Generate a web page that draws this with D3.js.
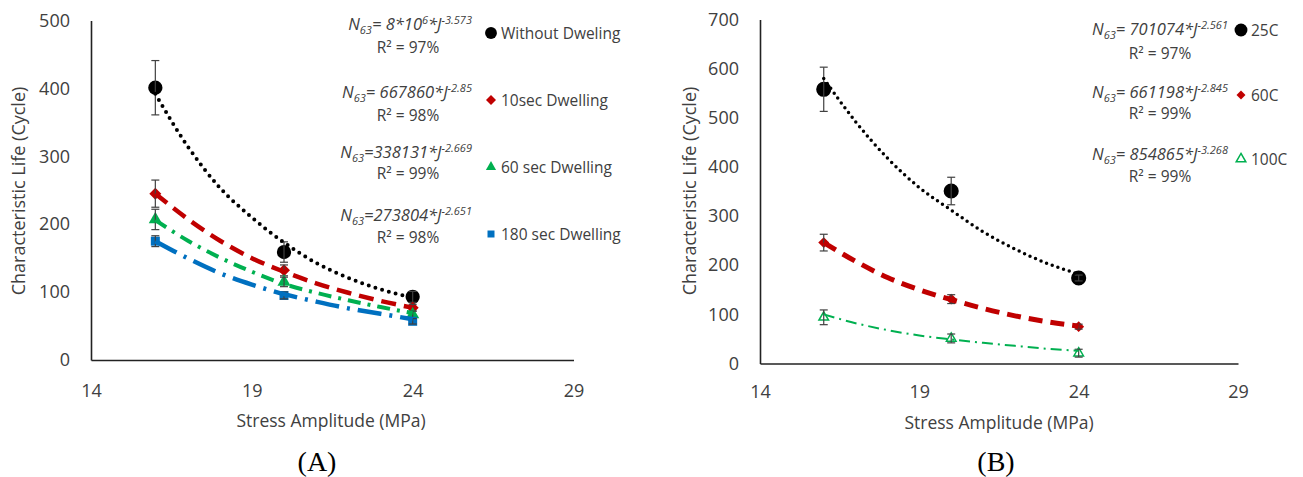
<!DOCTYPE html>
<html>
<head>
<meta charset="utf-8">
<script src="https://cdn.jsdelivr.net/npm/d3@7"></script>
<style>
  body { margin: 0; background: #fff; }
  svg { display: block; font-family: "Open Sans", "Noto Sans", sans-serif; }
</style>
</head>
<body>
<svg id="chart"></svg>
<script>
// ---- data ----
const stressLevels = [16, 20, 24];
const trendStress = [16, 17, 18, 19, 20, 21, 22, 23, 24];
const xTicks = [14, 19, 24, 29];
const yTicksA = [0, 100, 200, 300, 400, 500];
const yTicksB = [0, 100, 200, 300, 400, 500, 600, 700];

// (A) dwelling time
const lifeNoDwell = [401, 159, 93];
const errNoDwell = [40, 15, 8];
const trendNoDwell = [392, 315, 254, 210, 173, 143, 121, 104, 92];
const life10s = [245, 132, 77];
const err10s = [20, 8, 5];
const trend10s = [245, 208, 176, 150, 130, 113, 99, 87, 77];
const life60s = [207, 115, 67];
const err60s = [15, 7, 5];
const trend60s = [206, 176, 151, 130, 112, 99, 88, 78, 69];
const life180s = [175, 95, 57];
const err180s = [8, 5, 4];
const trend180s = [175, 150, 128, 111, 97, 86, 76, 68, 60];

// (B) temperature
const life25C = [558, 351, 174];
const err25C = [45, 28, 6];
const trend25C = [580, 492, 418, 358, 312, 268, 233, 204, 182];
const life60C = [246, 131, 75];
const err60C = [17, 9, 5];
const trend60C = [246, 208, 175, 150, 130, 112, 97, 85, 76];
const life100C = [94, 51, 21];
const err100C = [15, 9, 8];
const trend100C = [100, 82, 68, 57, 49, 42, 36, 30, 26];

const labelsA = ['Without Dweling', '10sec Dwelling', '60 sec Dwelling', '180 sec Dwelling'];
const equationsA = [
  ['= 8*10', '6', '*J', '-3.573'],
  ['= 667860*J', '-2.85'],
  ['=338131*J', '-2.669'],
  ['=273804*J', '-2.651']
];
const r2A = ['97%', '98%', '99%', '98%'];

const labelsB = ['25C', '60C', '100C'];
const equationsB = [
  ['= 701074*J', '-2.561'],
  ['= 661198*J', '-2.845'],
  ['= 854865*J', '-3.268']
];
const r2B = ['97%', '99%', '99%'];

const RED = '#c00000', GREEN = '#00b050', BLUE = '#0070c0', TEXT = '#404040';

const svg = d3.select('#chart').attr('width', 1303).attr('height', 477);
svg.append('rect').attr('width', 1303).attr('height', 477).attr('fill', '#fff');

function markerPath(kind, size) {
  const t = { circle: d3.symbolCircle, diamond: d3.symbolSquare, triangle: d3.symbolTriangle, square: d3.symbolSquare }[kind];
  return d3.symbol().type(t).size(size)();
}

function drawMarker(g, kind, size, color, hollow, x, y) {
  g.append('path')
    .attr('d', markerPath(kind, size))
    .attr('transform', `translate(${x},${y})` + (kind === 'diamond' ? ' rotate(45)' : ''))
    .attr('fill', hollow ? '#fff' : color)
    .attr('stroke', hollow ? color : 'none')
    .attr('stroke-width', hollow ? 1.5 : 0);
}

function drawPanel(p) {
  const g = svg.append('g');
  const x = d3.scaleLinear().domain([14, 29]).range(p.xRange);
  const y = d3.scaleLinear().domain([0, p.yMax]).range(p.yRange);

  // axes
  const ax = g.append('g')
    .attr('transform', `translate(0,${p.yRange[0]})`)
    .call(d3.axisBottom(x).tickValues(xTicks).tickSize(0).tickPadding(p.xPad));
  const ay = g.append('g')
    .attr('transform', `translate(${p.xRange[0]},0)`)
    .call(d3.axisLeft(y).tickValues(p.yTicks).tickSize(0).tickPadding(21));
  [ax, ay].forEach(a => {
    a.select('.domain').attr('stroke', '#222').attr('stroke-width', 1.6);
    a.selectAll('text').attr('font-family', '"Open Sans", sans-serif').attr('font-size', 18).attr('fill', TEXT);
  });

  g.append('text')
    .attr('x', p.xTitleX)
    .attr('y', p.xTitleY)
    .attr('text-anchor', 'middle').attr('font-size', 17.5).attr('fill', TEXT)
    .text('Stress Amplitude (MPa)');
  g.append('text')
    .attr('transform', `translate(${p.yTitleX},${p.yTitleY}) rotate(-90)`)
    .attr('text-anchor', 'middle').attr('font-size', 18).attr('fill', TEXT)
    .text('Characteristic Life (Cycle)');
  g.append('text')
    .attr('x', p.captionX).attr('y', 471)
    .attr('text-anchor', 'middle')
    .attr('font-family', '"Liberation Serif", "DejaVu Serif", serif')
    .attr('font-size', 28).attr('fill', '#000')
    .text(p.caption);

  const line = d3.line()
    .x((d, i) => x(trendStress[i]))
    .y(d => y(d))
    .curve(d3.curveMonotoneX);

  p.series.forEach(s => {
    // markers
    s.life.forEach((v, i) => drawMarker(g, s.marker, s.size, s.color, s.hollow, x(stressLevels[i]), y(v)));
    // error bars
    s.life.forEach((v, i) => {
      const cx = x(stressLevels[i]);
      const top = y(v + s.err[i]), bot = y(v - s.err[i]);
      g.append('line').attr('x1', cx).attr('x2', cx).attr('y1', top).attr('y2', bot)
        .attr('stroke', '#404040').attr('stroke-width', 1.2);
      [top, bot].forEach(yy => g.append('line')
        .attr('x1', cx - 4).attr('x2', cx + 4).attr('y1', yy).attr('y2', yy)
        .attr('stroke', '#404040').attr('stroke-width', 1.2));
    });
    // power trendline
    g.append('path')
      .datum(s.trend)
      .attr('d', line)
      .attr('fill', 'none')
      .attr('stroke', s.color)
      .attr('stroke-width', s.width)
      .attr('stroke-linecap', s.cap)
      .attr('stroke-dasharray', s.dash);
  });

  // legend with equations
  p.series.forEach((s, i) => {
    const L = p.legend[i];
    const eq = g.append('text')
      .attr('x', p.eqEnd).attr('y', L.eqY)
      .attr('text-anchor', 'end').attr('font-style', 'italic')
      .attr('font-size', 16.5).attr('fill', TEXT);
    eq.append('tspan').text('N');
    eq.append('tspan').attr('font-size', 11).attr('dy', 3.5).text('63');
    const parts = s.equation;
    eq.append('tspan').attr('dy', -3.5).text(parts[0]);
    eq.append('tspan').attr('font-size', 11).attr('dy', -6.5).text(parts[1]);
    if (parts.length > 2) {
      eq.append('tspan').attr('font-size', 16.5).attr('dy', 6.5).text(parts[2]);
      eq.append('tspan').attr('font-size', 11).attr('dy', -6.5).text(parts[3]);
    }
    g.append('text')
      .attr('x', p.r2X).attr('y', L.r2Y)
      .attr('text-anchor', 'middle').attr('font-size', 15.5).attr('fill', TEXT)
      .text('R² = ' + s.r2);
    drawMarker(g, s.marker, s.legendSize, s.color, s.hollow, p.markX, L.markY);
    g.append('text')
      .attr('x', p.markX + 10).attr('y', L.markY + 6)
      .attr('font-size', 15.5).attr('fill', TEXT)
      .text(s.label);
  });
}

drawPanel({
  xRange: [91, 573.5], yRange: [360, 20.5], yMax: 500, yTicks: yTicksA, xPad: 24,
  xTitleX: 331, xTitleY: 427, yTitleX: 25, yTitleY: 191, caption: '(A)', captionX: 317,
  eqEnd: 472, r2X: 408, markX: 491,
  legend: [
    { eqY: 30, r2Y: 53, markY: 33 },
    { eqY: 98, r2Y: 121, markY: 100 },
    { eqY: 158, r2Y: 179, markY: 167 },
    { eqY: 221, r2Y: 243, markY: 234 }
  ],
  series: [
    { life: lifeNoDwell, err: errNoDwell, trend: trendNoDwell, color: '#000', marker: 'circle', size: 160, legendSize: 110,
      width: 4, cap: 'round', dash: '0 7', label: labelsA[0], equation: equationsA[0], r2: r2A[0] },
    { life: life10s, err: err10s, trend: trend10s, color: RED, marker: 'diamond', size: 72, legendSize: 50,
      width: 4.5, cap: 'butt', dash: '15 8', label: labelsA[1], equation: equationsA[1], r2: r2A[1] },
    { life: life60s, err: err60s, trend: trend60s, color: GREEN, marker: 'triangle', size: 75, legendSize: 45,
      width: 4, cap: 'butt', dash: '13 7 3 7', label: labelsA[2], equation: equationsA[2], r2: r2A[2] },
    { life: life180s, err: err180s, trend: trend180s, color: BLUE, marker: 'square', size: 81, legendSize: 49,
      width: 4.5, cap: 'butt', dash: '24 8 3 8', label: labelsA[3], equation: equationsA[3], r2: r2A[3] }
  ]
});

drawPanel({
  xRange: [760, 1238], yRange: [363.5, 19.5], yMax: 700, yTicks: yTicksB, xPad: 22,
  xTitleX: 999, xTitleY: 429, yTitleX: 696, yTitleY: 191, caption: '(B)', captionX: 996,
  eqEnd: 1228, r2X: 1160, markX: 1241,
  legend: [
    { eqY: 35, r2Y: 59, markY: 30 },
    { eqY: 98, r2Y: 119, markY: 95 },
    { eqY: 160, r2Y: 182, markY: 159 }
  ],
  series: [
    { life: life25C, err: err25C, trend: trend25C, color: '#000', marker: 'circle', size: 180, legendSize: 130,
      width: 3.5, cap: 'round', dash: '0 6', label: labelsB[0], equation: equationsB[0], r2: r2B[0] },
    { life: life60C, err: err60C, trend: trend60C, color: RED, marker: 'diamond', size: 60, legendSize: 40,
      width: 5, cap: 'butt', dash: '14 8', label: labelsB[1], equation: equationsB[1], r2: r2B[1] },
    { life: life100C, err: err100C, trend: trend100C, color: GREEN, marker: 'triangle', size: 40, legendSize: 40, hollow: true,
      width: 2, cap: 'butt', dash: '11 5 2 5', label: labelsB[2], equation: equationsB[2], r2: r2B[2] }
  ]
});
</script>
</body>
</html>
